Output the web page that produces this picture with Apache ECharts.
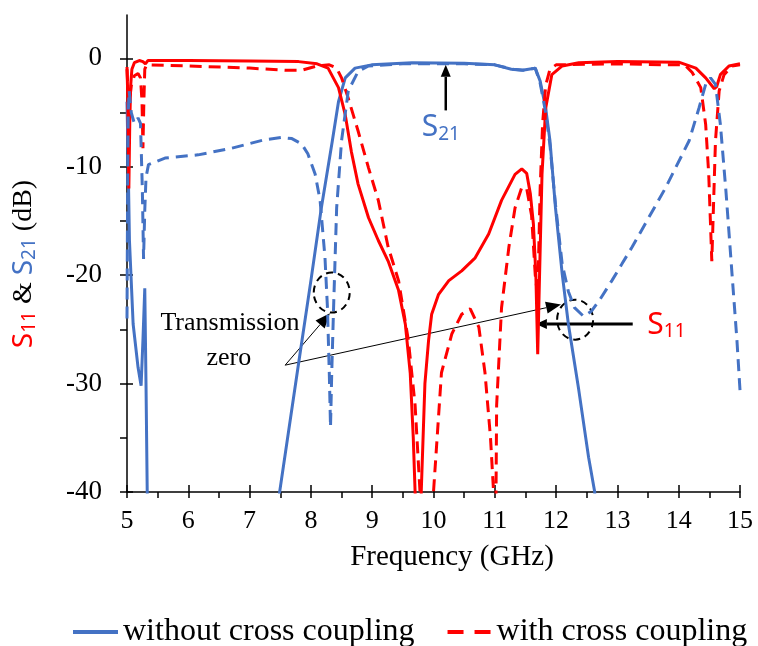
<!DOCTYPE html>
<html>
<head>
<meta charset="utf-8">
<script src="https://cdn.jsdelivr.net/npm/echarts@6/dist/echarts.min.js"></script>
<style>
  html, body { margin: 0; padding: 0; background: #fff; }
  #main { width: 758px; height: 646px; }
</style>
</head>
<body>
<div id="main"></div>
<script>
// S11 without cross coupling (solid red)
const freqS11a = [5.00, 5.015, 5.03, 5.045, 5.06, 5.08, 5.12, 5.2, 5.26, 5.3, 5.34, 6.0, 7.0, 7.8, 8.1, 8.28, 8.45, 8.56, 8.66, 8.77, 8.94, 9.1, 9.26, 9.43, 9.54, 9.62, 9.67, 9.70, 9.72, 9.78, 9.80, 9.86, 9.92, 9.97, 10.08, 10.25, 10.46, 10.68, 10.9, 11.11, 11.33, 11.44, 11.52, 11.58, 11.63, 11.67, 11.70, 11.73, 11.77, 11.83, 11.93, 12.1, 12.37, 13.0, 14.0, 14.28, 14.44, 14.58, 14.62, 14.68, 14.82, 15.0];
const s11a = [-0.8, -4, -12, -6, -2.5, -1, -0.4, -0.2, -0.3, -0.5, -0.2, -0.2, -0.25, -0.3, -0.5, -0.9, -2.7, -5.2, -8.6, -11.6, -14.7, -16.8, -18.7, -21.4, -24.5, -29, -35, -40, -45, -45, -40, -30, -26, -23.6, -21.8, -20.5, -19.6, -18.4, -16.2, -13.1, -10.7, -10.2, -10.6, -12.5, -15.3, -20, -27.3, -20, -10.7, -4.6, -1.5, -0.7, -0.4, -0.3, -0.35, -0.9, -1.8, -2.8, -2.6, -1.5, -0.7, -0.5];

// S11 with cross coupling (dashed red)
const freqS11b = [5.00, 5.02, 5.04, 5.07, 5.12, 5.18, 5.22, 5.245, 5.26, 5.275, 5.29, 5.32, 6.0, 7.0, 7.6, 7.85, 8.1, 8.3, 8.42, 8.5, 8.6, 8.77, 8.94, 9.1, 9.26, 9.43, 9.59, 9.70, 9.78, 9.80, 9.98, 10.0, 10.13, 10.3, 10.46, 10.6, 10.74, 10.84, 10.93, 10.98, 10.99, 11.01, 11.02, 11.03, 11.11, 11.23, 11.33, 11.44, 11.52, 11.6, 11.66, 11.70, 11.74, 11.78, 11.83, 11.9, 12.0, 13.0, 13.8, 14.1, 14.22, 14.36, 14.44, 14.49, 14.54, 14.6, 14.66, 14.74, 14.87, 15.0];
const s11b = [-1, -3.5, -4, -2.5, -1.6, -1.4, -1.8, -4, -8.3, -4, -1, -0.6, -0.7, -0.9, -1.1, -1.1, -0.7, -0.6, -0.9, -1.8, -3.5, -6.7, -10.1, -13.1, -17.4, -20.5, -26, -32, -40, -45, -45, -40, -29, -25.4, -23.6, -23.1, -24.8, -29, -35, -40, -45, -45, -40, -32, -23, -17.4, -13.8, -11.9, -12, -14.5, -20, -22, -12, -6, -2.5, -1.0, -0.6, -0.5, -0.6, -0.6, -1.3, -2.7, -6.1, -10.7, -18.7, -7.6, -3, -1.5, -0.7, -0.6];

// S21 without cross coupling (solid blue)
const freqS21a = [5.00, 5.02, 5.04, 5.1, 5.18, 5.23, 5.26, 5.29, 5.31, 5.33, 5.34, 7.45, 7.49, 7.8, 8.0, 8.17, 8.35, 8.45, 8.56, 8.72, 8.99, 9.65, 10.5, 11.0, 11.27, 11.45, 11.55, 11.66, 11.74, 11.83, 11.9, 11.99, 12.1, 12.2, 12.37, 12.53, 12.63, 12.65, 15.0];
const s21a = [-4, -10, -16.8, -24.5, -28.5, -30.2, -26, -21.2, -30, -40, -45, -45, -40, -28.1, -20.5, -13.8, -7.6, -4, -1.8, -0.9, -0.6, -0.4, -0.45, -0.6, -1.0, -1.1, -1.0, -0.9, -2.1, -4.6, -7.6, -13.8, -19.9, -24.5, -30.6, -36.8, -40, -45, -45];

// S21 with cross coupling (dashed blue)
const freqS21b = [5.00, 5.01, 5.02, 5.035, 5.07, 5.12, 5.18, 5.22, 5.25, 5.27, 5.29, 5.31, 5.35, 5.62, 6.16, 6.7, 7.25, 7.52, 7.69, 7.85, 7.95, 8.07, 8.15, 8.23, 8.27, 8.30, 8.32, 8.34, 8.37, 8.42, 8.5, 8.61, 8.77, 8.94, 9.5, 10.5, 11.0, 11.3, 11.5, 11.66, 11.74, 11.83, 11.9, 11.99, 12.1, 12.2, 12.3, 12.45, 12.58, 12.72, 12.91, 13.07, 13.24, 13.79, 14.17, 14.33, 14.44, 14.52, 14.6, 14.68, 14.77, 14.87, 14.95, 15.0];
const s21b = [-24, -12, -5, -3, -5, -6, -5.5, -6, -12, -18.5, -14, -11, -9.8, -9.2, -8.9, -8.3, -7.5, -7.3, -7.4, -7.9, -8.8, -10.7, -13.1, -18.4, -23, -29, -34, -29, -23, -13.8, -7.6, -3, -1.2, -0.7, -0.5, -0.5, -0.6, -1.0, -1.1, -0.9, -2.3, -5, -8, -13.5, -19, -21.5, -23, -23.8, -23.3, -22.2, -20.5, -19, -17.4, -11.9, -7.6, -4.6, -2.4, -1.8, -2.4, -6.1, -12.2, -19.9, -26, -30.6];

const yTicksMajor = [-40, -30, -20, -10, 0];
const yTicksAll = [-40, -35, -30, -25, -20, -15, -10, -5, 0];

const RED = '#ff0000';
const BLUE = '#4472c4';
const SERIF = 'Liberation Serif';
const SANS = 'Noto Sans';

function zip(xs, ys) {
  return xs.map((x, i) => [x, ys[i]]);
}

var myChart = echarts.init(document.getElementById('main'));

const tickLine = { color: '#000', width: 1.5 };

const options = {
  animation: false,
  grid: { left: 127, right: 18, top: 15, bottom: 154, outerBoundsMode: 'none' },
  legend: {
    left: 73,
    top: 616,
    width: 720,
    padding: 0,
    itemWidth: 45,
    itemHeight: 4,
    itemGap: 33,
    selectedMode: false,
    textStyle: { fontFamily: SERIF, fontSize: 32, color: '#000' },
    data: [
      { name: 'without cross coupling', icon: 'path://M0,0h45v4h-45z' },
      { name: 'with cross coupling', icon: 'path://M0,0h16v4h-16zM27,0h16v4h-16z' }
    ]
  },
  xAxis: [
    {
      type: 'value', min: 5, max: 15, interval: 1, position: 'bottom',
      axisLine: { onZero: false, lineStyle: tickLine },
      axisTick: { inside: true, length: 7, lineStyle: tickLine },
      axisLabel: { margin: 16, color: '#000', fontFamily: SERIF, fontSize: 26 },
      splitLine: { show: false }
    },
    {
      type: 'value', min: 5, max: 15, interval: 0.5, position: 'bottom',
      axisLine: { show: false, onZero: false },
      axisTick: { length: 6, lineStyle: tickLine },
      axisLabel: { show: false },
      splitLine: { show: false }
    }
  ],
  yAxis: [
    {
      type: 'value', min: -40, max: 4, position: 'left',
      axisLine: { show: true, onZero: false, lineStyle: tickLine },
      axisTick: { show: true, inside: true, length: 6, lineStyle: tickLine, customValues: yTicksMajor },
      axisLabel: { margin: 25, color: '#000', fontFamily: SERIF, fontSize: 27, customValues: yTicksMajor },
      splitLine: { show: false }
    },
    {
      type: 'value', min: -40, max: 4, position: 'left',
      axisLine: { show: false, onZero: false },
      axisTick: { show: true, length: 7, lineStyle: tickLine, customValues: yTicksAll },
      axisLabel: { show: false },
      splitLine: { show: false }
    }
  ],
  series: [
    {
      name: 'without cross coupling', type: 'line', symbol: 'none',
      data: zip(freqS21a, s21a),
      lineStyle: { color: BLUE, width: 3 }, itemStyle: { color: BLUE }
    },
    {
      name: 'with cross coupling', type: 'line', symbol: 'none',
      data: zip(freqS11b, s11b),
      lineStyle: { color: RED, width: 3, type: [12, 7] }, itemStyle: { color: RED }
    },
    {
      name: 'without cross coupling', type: 'line', symbol: 'none',
      data: zip(freqS11a, s11a),
      lineStyle: { color: RED, width: 3 }, itemStyle: { color: RED }
    },
    {
      name: 'with cross coupling', type: 'line', symbol: 'none',
      data: zip(freqS21b, s21b),
      lineStyle: { color: BLUE, width: 3, type: [12, 7] }, itemStyle: { color: BLUE }
    }
  ]
};

myChart.setOption(options);

// annotation anchors in data units (GHz, dB)
const annoS21Arrow = [[10.2, -4.8], [10.2, -0.6]];
const annoS21Label = [10.12, -6.4];
const annoS11Arrow = [[13.25, -24.5], [11.67, -24.5]];
const annoS11Label = [13.8, -24.6];
const annoCircles = [[8.34, -21.6], [12.31, -24.1]];
const annoTzFrom = [7.58, -28.3];
const annoTzTips = [[8.31, -23.5], [12.08, -22.7]];
const annoTzText = [[6.68, -24.4], [6.66, -27.7]];

function px(p) {
  return myChart.convertToPixel({ seriesIndex: 0 }, p);
}

function arrow(a, b, w, hl, hw) {
  const dx = b[0] - a[0], dy = b[1] - a[1];
  const len = Math.hypot(dx, dy);
  const ux = dx / len, uy = dy / len;
  const bx = b[0] - ux * hl, by = b[1] - uy * hl;
  const nx = -uy, ny = ux;
  return [
    { type: 'line', shape: { x1: a[0], y1: a[1], x2: bx, y2: by }, style: { stroke: '#000', lineWidth: w } },
    { type: 'polygon', shape: { points: [[b[0], b[1]], [bx + nx * hw, by + ny * hw], [bx - nx * hw, by - ny * hw]] }, style: { fill: '#000' } }
  ];
}

function sLabel(pos, sub, color) {
  return {
    type: 'text', x: pos[0], y: pos[1],
    style: {
      text: '{s|S}{b|' + sub + '}',
      align: 'center', verticalAlign: 'middle',
      rich: {
        s: { fontFamily: SANS, fontSize: 30, lineHeight: 32, fill: color, verticalAlign: 'middle' },
        b: { fontFamily: SANS, fontSize: 19, lineHeight: 19, fill: color, verticalAlign: 'bottom' }
      }
    }
  };
}

function drawAnnotations() {
  let els = [];
  els = els.concat(arrow(px(annoS21Arrow[0]), px(annoS21Arrow[1]), 2.5, 12, 5));
  els.push(sLabel(px(annoS21Label), '21', BLUE));
  els = els.concat(arrow(px(annoS11Arrow[0]), px(annoS11Arrow[1]), 3, 11, 5));
  els.push(sLabel(px(annoS11Label), '11', RED));
  annoCircles.forEach(function (c) {
    const p = px(c);
    els.push({ type: 'ellipse', shape: { cx: p[0], cy: p[1], rx: 18, ry: 20 }, style: { fill: 'none', stroke: '#000', lineWidth: 2, lineDash: [7, 5] } });
  });
  const from = px(annoTzFrom);
  annoTzTips.forEach(function (t) {
    els = els.concat(arrow(from, px(t), 1, 15, 6));
  });
  ['Transmission', 'zero'].forEach(function (txt, i) {
    const p = px(annoTzText[i]);
    els.push({ type: 'text', x: p[0], y: p[1], style: { text: txt, fontFamily: SERIF, fontSize: 26, fill: '#000', align: 'center', verticalAlign: 'middle' } });
  });
  // axis names
  els.push({ type: 'text', x: 452, y: 557, style: { text: 'Frequency (GHz)', fontFamily: SERIF, fontSize: 29, fill: '#000', align: 'center', verticalAlign: 'middle' } });
  els.push({
    type: 'text', x: 24, y: 264, rotation: Math.PI / 2,
    style: {
      text: '{r|S}{rs|11}{k| & }{b|S}{bs|21}{k| (dB)}',
      align: 'center', verticalAlign: 'middle',
      rich: {
        r: { fontFamily: SANS, fontSize: 28, lineHeight: 30, fill: RED },
        rs: { fontFamily: SANS, fontSize: 19, lineHeight: 19, fill: RED, verticalAlign: 'bottom' },
        b: { fontFamily: SANS, fontSize: 28, lineHeight: 30, fill: BLUE },
        bs: { fontFamily: SANS, fontSize: 19, lineHeight: 19, fill: BLUE, verticalAlign: 'bottom' },
        k: { fontFamily: SERIF, fontSize: 28, lineHeight: 30, fill: '#000' }
      }
    }
  });
  myChart.setOption({ graphic: { elements: els } });
}

drawAnnotations();
</script>
</body>
</html>
